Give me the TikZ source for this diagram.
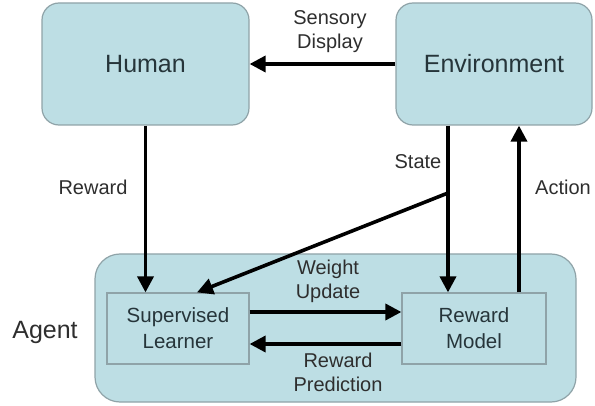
\documentclass[tikz,border=0pt]{standalone}
\usepackage{fontspec}
\setmainfont{Liberation Sans}
\usetikzlibrary{arrows.meta,calc}
\definecolor{boxfill}{HTML}{BDDEE4}
\definecolor{boxline}{HTML}{8FA3A8}
\definecolor{boxtext}{HTML}{26353A}
\definecolor{lbltext}{HTML}{2E2E2E}
\tikzset{
  bigbox/.style={draw=boxline, fill=boxfill, line width=1.2pt, rounded corners=17pt, text=boxtext, font=\fontsize{25}{30}\selectfont, inner sep=0pt},
  smallbox/.style={draw=boxline, fill=boxfill, line width=1.2pt, text=boxtext, font=\fontsize{20.5}{26}\selectfont, align=center, inner sep=0pt},
  lbl/.style={text=lbltext, font=\fontsize{20}{24}\selectfont, align=center, inner sep=0pt},
  conn/.style={line width=3.6pt, black},
  arr/.style={conn, -{Triangle[length=16pt,width=16pt]}}
}
\begin{document}
\begin{tikzpicture}[x=1pt,y=1pt]
\useasboundingbox (0,0) rectangle (595,405);
% boxes
\node[bigbox, minimum width=207pt, minimum height=122pt] (human) at (145.5,341) {Human};
\node[bigbox, minimum width=196pt, minimum height=122pt] (env) at (494,341) {Environment};
\node[bigbox, rounded corners=25pt, minimum width=481pt, minimum height=148pt] (agent) at (335.5,77) {};
\node[smallbox, minimum width=142pt, minimum height=71pt] (sl) at (178,76.5) {Supervised\\Learner};
\node[smallbox, minimum width=144pt, minimum height=71pt] (rm) at (474,76.5) {Reward\\Model};
% labels
\node[lbl] (lsens) at (330,373) {Sensory\\Display};
\node[lbl] (lrew) at (93,218) {Reward};
\node[lbl] (lstate) at (418,243) {State};
\node[lbl] (lact) at (563,218) {Action};
\node[lbl] (lwu) at (328,124) {Weight\\Update};
\node[lbl] (lrp) at (338,33) {Reward\\Prediction};
\node[lbl, font=\fontsize{25}{30}\selectfont] (lagent) at (45,73) {Agent};
% connectors
\coordinate (stj) at (448,212);
\draw[arr] (env.west) -- (human.east);
\draw[arr] (human.south) -- (human.south |- sl.north);
\draw[arr] (env.south -| stj) -- (stj |- rm.north);
\draw[arr] (stj) -- ([xshift=19pt]sl.north);
\draw[arr] ([xshift=45pt]rm.north) -- ([xshift=45pt]rm.north |- env.south);
\draw[arr] ([yshift=16.5pt]sl.east) -- ([yshift=16.5pt]rm.west);
\draw[arr] ([yshift=-15.5pt]rm.west) -- ([yshift=-15.5pt]sl.east);
\end{tikzpicture}
\end{document}
